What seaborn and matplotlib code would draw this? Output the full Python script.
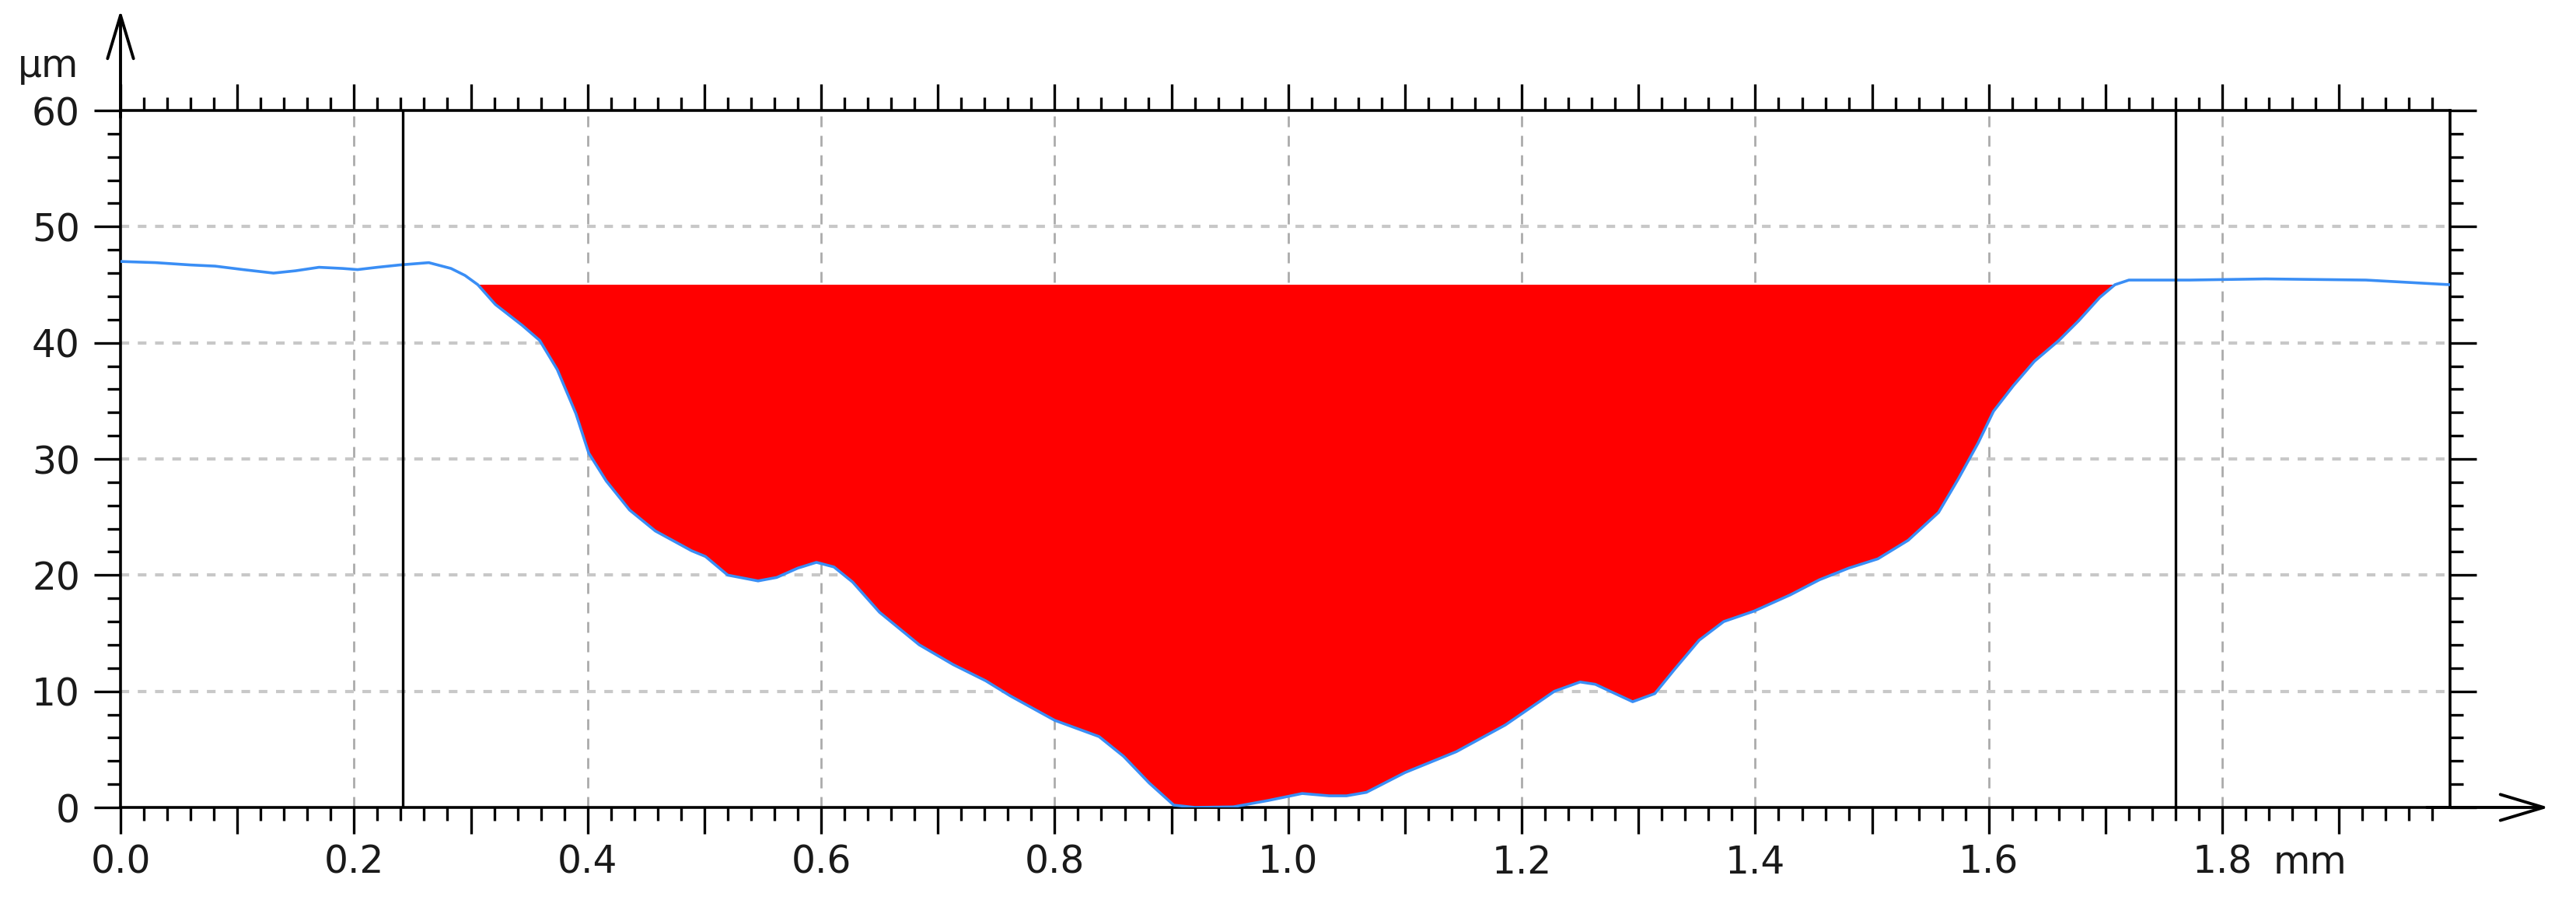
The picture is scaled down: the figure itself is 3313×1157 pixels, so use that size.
import numpy as np
import matplotlib
matplotlib.use("Agg")
import matplotlib.pyplot as plt
from matplotlib.ticker import MultipleLocator, FuncFormatter
import seaborn as sns

# profile (x in mm, depth in um)
x_mm = [0.000, 0.030, 0.060, 0.081, 0.105, 0.131, 0.150, 0.170, 0.190, 0.203,
        0.220, 0.239, 0.264, 0.283, 0.295, 0.306, 0.321, 0.344, 0.359, 0.374,
        0.390, 0.401, 0.416, 0.436, 0.458, 0.489, 0.501, 0.520, 0.546, 0.562,
        0.580, 0.596, 0.611, 0.627, 0.650, 0.684, 0.713, 0.741, 0.762, 0.800,
        0.838, 0.859, 0.881, 0.902, 0.920, 0.953, 0.983, 1.012, 1.035, 1.050,
        1.067, 1.100, 1.144, 1.186, 1.228, 1.250, 1.263, 1.280, 1.295, 1.314,
        1.331, 1.352, 1.373, 1.399, 1.430, 1.455, 1.480, 1.505, 1.531, 1.557,
        1.574, 1.591, 1.604, 1.621, 1.639, 1.660, 1.677, 1.695, 1.708, 1.720,
        1.772, 1.837, 1.923, 1.995]
z_um = [47.0, 46.9, 46.7, 46.6, 46.3, 46.0, 46.2, 46.5, 46.4, 46.3,
        46.5, 46.7, 46.9, 46.4, 45.8, 45.0, 43.3, 41.5, 40.2, 37.7,
        33.9, 30.5, 28.1, 25.6, 23.8, 22.1, 21.6, 20.0, 19.5, 19.8,
        20.6, 21.1, 20.7, 19.4, 16.8, 14.0, 12.3, 10.9, 9.6, 7.5,
        6.1, 4.4, 2.1, 0.2, 0.0, 0.05, 0.6, 1.2, 1.0, 1.0,
        1.3, 3.0, 4.8, 7.1, 10.0, 10.8, 10.6, 9.8, 9.1, 9.8,
        11.9, 14.4, 16.0, 16.9, 18.3, 19.6, 20.6, 21.4, 23.0, 25.4,
        28.3, 31.4, 34.1, 36.3, 38.4, 40.2, 41.9, 43.9, 45.0, 45.4,
        45.4, 45.5, 45.4, 45.0]

fill_level = 45.0
cursor_x = [0.242, 1.760]
x_max = 1.995
y_max = 60

sns.set_style("white")
plt.rcParams['font.family'] = ['DejaVu Sans']
plt.rcParams['lines.scale_dashes'] = False

fig = plt.figure(figsize=(33.13, 11.57), dpi=100)
ax = fig.add_axes([155 / 3313, 1 - 1038 / 1157, 2996 / 3313, 896 / 1157])

x = np.array(x_mm)
z = np.array(z_um)

# grid
for gx in np.arange(0.2, x_max, 0.2):
    ax.axvline(gx, color='#ababab', lw=2.0, ls=(0, (10, 8)), zorder=1)
for gy in range(10, y_max, 10):
    ax.axhline(gy, color='#c8c8c8', lw=3.0, ls=(0, (8, 8)), zorder=1)

ax.fill_between(x, z, fill_level, where=z <= fill_level, interpolate=True,
                color='#ff0000', lw=0, zorder=2)
sns.lineplot(x=x, y=z, ax=ax, color='#3a8ef5', lw=2.6, zorder=3, sort=False)

for cx in cursor_x:
    ax.axvline(cx, color='black', lw=2.4, zorder=4)

ax.set_xlim(0, x_max)
ax.set_ylim(0, y_max)
ax.set_xlabel("")
ax.set_ylabel("")

ax.xaxis.set_major_locator(MultipleLocator(0.1))
ax.xaxis.set_minor_locator(MultipleLocator(0.02))
ax.yaxis.set_major_locator(MultipleLocator(10))
ax.yaxis.set_minor_locator(MultipleLocator(2))


def xfmt(v, pos):
    k = int(round(v * 10))
    if k % 2:
        return ""
    return f"{v:.1f}"


ax.xaxis.set_major_formatter(FuncFormatter(xfmt))

for s in ax.spines.values():
    s.set_color('black')
    s.set_linewidth(2.6)
    s.set_visible(True)

ax.tick_params(which='both', direction='out', top=True, right=True,
               bottom=True, left=True, labeltop=False, labelright=False,
               color='black', width=2.4, labelsize=35, labelcolor='#1a1a1a')
ax.tick_params(which='major', length=24.5)
ax.tick_params(which='minor', length=12)
ax.tick_params(axis='x', which='major', pad=9)
ax.tick_params(axis='y', which='major', pad=13)

# axis arrows
arrow_style = '->,head_length=0.8,head_width=0.24'
ax.annotate("", xy=(0, 1.144), xytext=(0, 0.99), xycoords='axes fraction',
            textcoords='axes fraction',
            arrowprops=dict(arrowstyle=arrow_style, mutation_scale=50,
                            lw=2.8, color='black', shrinkA=0, shrinkB=0),
            annotation_clip=False)
ax.annotate("", xy=(1.0424, 0), xytext=(0.99, 0), xycoords='axes fraction',
            textcoords='axes fraction',
            arrowprops=dict(arrowstyle=arrow_style, mutation_scale=50,
                            lw=2.8, color='black', shrinkA=0, shrinkB=0),
            annotation_clip=False)

ax.text(-0.0311, 1.0635, "µm", transform=ax.transAxes, fontsize=35,
        color='#1a1a1a', ha='center', va='center')
ax.annotate("mm", xy=(1.8, 0), xycoords=ax.get_xaxis_transform(),
            xytext=(47, -33.5), textcoords='offset points', fontsize=35,
            color='#1a1a1a', ha='left', va='top', annotation_clip=False)

fig.savefig("out.png", dpi=100)
